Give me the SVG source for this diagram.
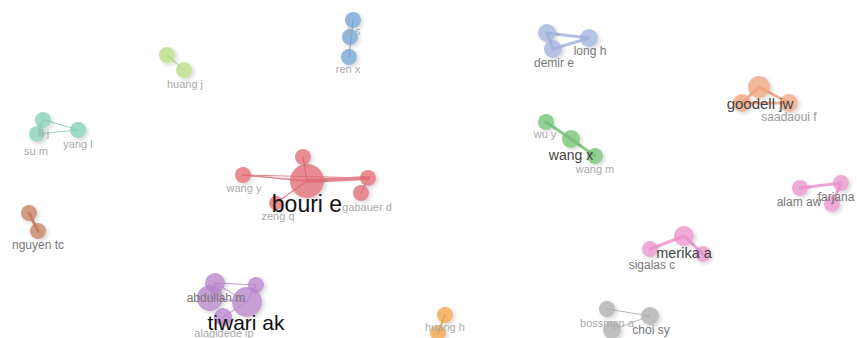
<svg xmlns="http://www.w3.org/2000/svg" width="857" height="338" viewBox="0 0 857 338">
<defs>
<filter id="sh" x="-50%" y="-50%" width="200%" height="200%">
<feGaussianBlur in="SourceAlpha" stdDeviation="2"/>
<feOffset dx="2" dy="2" result="b"/>
<feComponentTransfer><feFuncA type="linear" slope="0.22"/></feComponentTransfer>
<feMerge><feMergeNode/><feMergeNode in="SourceGraphic"/></feMerge>
</filter>
</defs>
<style>
text{font-family:"Liberation Sans",Arial,sans-serif;}
.n{filter:url(#sh);opacity:0.75;}
.l1{font-size:11px;fill:#aaaaaa;}
.l2{font-size:12px;fill:#777777;}
.l3{font-size:15px;fill:#444444;}
.l4{font-size:23px;fill:#111111;}
.e{fill:none;stroke-linecap:round;opacity:0.8;}
</style>
<rect width="857" height="338" fill="#ffffff"/>
<g id="connectors">
<line class="e" x1="167" y1="55" x2="184" y2="70" stroke="#b5db7f" stroke-width="1.5"/>
<line class="e" x1="353" y1="20" x2="349" y2="57" stroke="#6fa0d0" stroke-width="1.2"/>
<path class="e" d="M547 33 L553 49 L589 38 Z" stroke="#9fb0dd" stroke-width="3"/>
<path class="e" d="M759 87 L742 103 L789 103 Z" stroke="#f0a07a" stroke-width="3"/>
<path class="e" d="M43 120 L37 134 L78 130 Z" stroke="#7fcdb5" stroke-width="1"/>
<line class="e" x1="29" y1="213" x2="38" y2="231" stroke="#c07a5a" stroke-width="3"/>
<g stroke="#e06670" class="e">
<line x1="307" y1="181" x2="243" y2="175" stroke-width="1.5"/>
<line x1="307" y1="181" x2="368" y2="178" stroke-width="4"/>
<line x1="307" y1="181" x2="303" y2="157" stroke-width="1.5"/>
<line x1="307" y1="181" x2="276" y2="203" stroke-width="1.2"/>
<line x1="368" y1="178" x2="361" y2="193" stroke-width="1.2"/>
<line x1="243" y1="175" x2="368" y2="178" stroke-width="1"/>
</g>
<path class="e" d="M546 122 L571 139 L595 156" stroke="#6fbf6f" stroke-width="3"/>
<path class="e" d="M800 188 L841 183 L832 204" stroke="#e890c8" stroke-width="3"/>
<path class="e" d="M650 249 L684 236 L703 254" stroke="#e890c8" stroke-width="3"/>
<g stroke="#b57fc8" class="e" stroke-width="1">
<line x1="215" y1="283" x2="256" y2="285"/>
<line x1="215" y1="283" x2="247" y2="302"/>
<line x1="210" y1="298" x2="247" y2="302"/>
<line x1="256" y1="285" x2="247" y2="302"/>
<line x1="223" y1="317" x2="247" y2="302"/>
<line x1="215" y1="283" x2="210" y2="298"/>
</g>
<line class="e" x1="445" y1="315" x2="438" y2="333" stroke="#f0a040" stroke-width="2"/>
<path class="e" d="M607 309 L650 316 L612 330" stroke="#aaaaaa" stroke-width="1"/>
</g>
<g id="huang-j"><circle class="n" cx="167" cy="55" r="8" fill="#b5db7f"/><circle class="n" cx="184" cy="70" r="8" fill="#b5db7f"/><text class="l1" x="185" y="88" text-anchor="middle">huang j</text></g>
<g id="ren-x"><circle class="n" cx="353" cy="20" r="8" fill="#6fa0d0"/><circle class="n" cx="350" cy="37" r="8" fill="#6fa0d0"/><circle class="n" cx="349" cy="57" r="8" fill="#6fa0d0"/><text class="l1" x="354" y="35" text-anchor="middle">li s</text><text class="l1" x="348" y="73" text-anchor="middle">ren x</text></g>
<g id="demir-e"><circle class="n" cx="547" cy="33" r="9" fill="#9fb0dd"/><circle class="n" cx="553" cy="49" r="9" fill="#9fb0dd"/><circle class="n" cx="589" cy="38" r="9" fill="#9fb0dd"/><text class="l2" x="590" y="55" text-anchor="middle">long h</text><text class="l2" x="554" y="67" text-anchor="middle">demir e</text></g>
<g id="goodell-jw"><circle class="n" cx="759" cy="87" r="11" fill="#f0a07a"/><circle class="n" cx="742" cy="103" r="9" fill="#f0a07a"/><circle class="n" cx="789" cy="103" r="9" fill="#f0a07a"/><text class="l3" x="760" y="109" text-anchor="middle">goodell jw</text><text class="l2" x="789" y="121" text-anchor="middle" style="fill:#999">saadaoui f</text></g>
<g id="yang-l"><circle class="n" cx="43" cy="120" r="8" fill="#7fcdb5"/><circle class="n" cx="37" cy="134" r="8" fill="#7fcdb5"/><circle class="n" cx="78" cy="130" r="8" fill="#7fcdb5"/><text class="l1" x="44" y="137" text-anchor="middle">li j</text><text class="l1" x="36" y="155" text-anchor="middle">su m</text><text class="l1" x="78" y="148" text-anchor="middle">yang l</text></g>
<g id="nguyen-tc"><circle class="n" cx="29" cy="213" r="8" fill="#c07a5a"/><circle class="n" cx="38" cy="231" r="8" fill="#c07a5a"/><text class="l2" x="38" y="249" text-anchor="middle">nguyen tc</text></g>
<g id="bouri-e"><circle class="n" cx="303" cy="157" r="8" fill="#e06670"/><circle class="n" cx="243" cy="175" r="8" fill="#e06670"/><circle class="n" cx="368" cy="178" r="8" fill="#e06670"/><circle class="n" cx="361" cy="193" r="8" fill="#e06670"/><circle class="n" cx="276" cy="203" r="7" fill="#e06670"/><circle class="n" cx="307" cy="181" r="17" fill="#e06670"/><text class="l1" x="244" y="192" text-anchor="middle">wang y</text><text class="l1" x="278" y="220" text-anchor="middle">zeng q</text><text class="l1" x="367" y="211" text-anchor="middle">gabauer d</text><text class="l4" x="307" y="212" text-anchor="middle">bouri e</text></g>
<g id="wang-x"><circle class="n" cx="546" cy="122" r="8" fill="#6fbf6f"/><circle class="n" cx="571" cy="139" r="9" fill="#6fbf6f"/><circle class="n" cx="595" cy="156" r="8" fill="#6fbf6f"/><text class="l1" x="545" y="138" text-anchor="middle">wu y</text><text class="l3" x="571" y="160" text-anchor="middle" style="font-size:14px">wang x</text><text class="l1" x="595" y="173" text-anchor="middle">wang m</text></g>
<g id="alam-aw"><circle class="n" cx="800" cy="188" r="8" fill="#e890c8"/><circle class="n" cx="841" cy="183" r="8" fill="#e890c8"/><circle class="n" cx="832" cy="204" r="8" fill="#e890c8"/><text class="l2" x="799" y="206" text-anchor="middle">alam aw</text><text class="l2" x="836" y="201" text-anchor="middle">farjana</text></g>
<g id="merika-a"><circle class="n" cx="650" cy="249" r="8" fill="#e890c8"/><circle class="n" cx="684" cy="236" r="10" fill="#e890c8"/><circle class="n" cx="703" cy="254" r="8" fill="#e890c8"/><text class="l3" x="684" y="258" text-anchor="middle" style="font-size:14.5px">merika a</text><text class="l2" x="652" y="269" text-anchor="middle">sigalas c</text></g>
<g id="tiwari-ak"><circle class="n" cx="215" cy="283" r="10" fill="#b57fc8"/><circle class="n" cx="256" cy="285" r="8" fill="#b57fc8"/><circle class="n" cx="210" cy="298" r="13" fill="#b57fc8"/><circle class="n" cx="223" cy="317" r="9" fill="#b57fc8"/><circle class="n" cx="247" cy="302" r="15" fill="#b57fc8"/><text class="l2" x="216" y="302" text-anchor="middle">abdullah m</text><text class="l1" x="224" y="337" text-anchor="middle">alagidede ip</text><text class="l4" x="246" y="330" text-anchor="middle" style="font-size:21px">tiwari ak</text></g>
<g id="huang-h"><circle class="n" cx="445" cy="315" r="8" fill="#f0a040"/><circle class="n" cx="438" cy="333" r="8" fill="#f0a040"/><text class="l1" x="445" y="331" text-anchor="middle">huang h</text></g>
<g id="choi-sy"><circle class="n" cx="607" cy="309" r="8" fill="#aaaaaa"/><circle class="n" cx="650" cy="316" r="9" fill="#aaaaaa"/><circle class="n" cx="612" cy="330" r="9" fill="#aaaaaa"/><text class="l1" x="607" y="327" text-anchor="middle">bossman a</text><text class="l2" x="651" y="334" text-anchor="middle">choi sy</text></g>
</svg>
